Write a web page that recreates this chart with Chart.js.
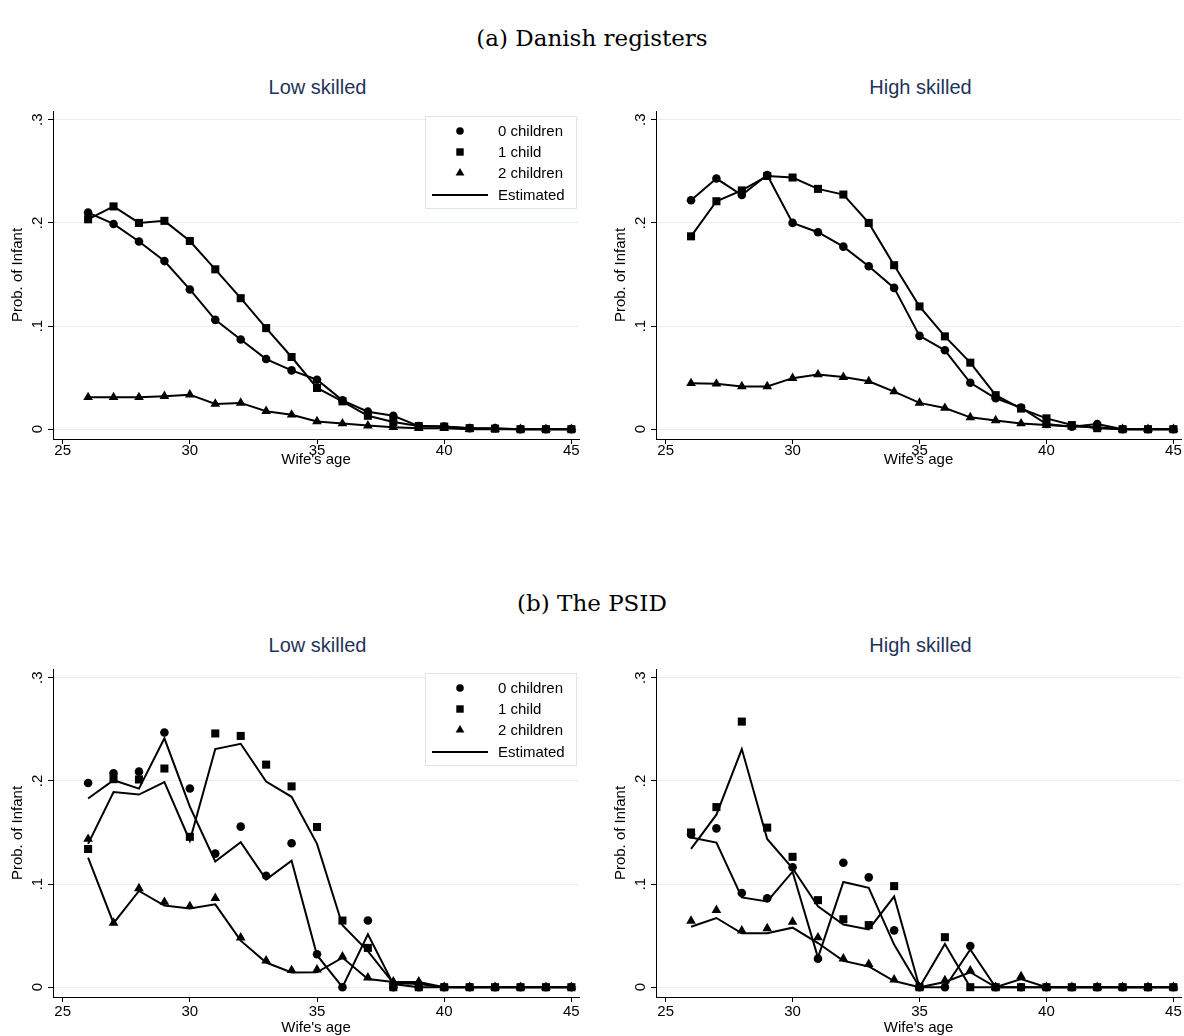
<!DOCTYPE html>
<html>
<head>
<meta charset="utf-8">
<script src="https://cdn.jsdelivr.net/npm/chart.js@4.4.1/dist/chart.umd.min.js"></script>
<style>
  body { margin: 0; background: #fff; width: 1184px; height: 1036px; position: relative; overflow: hidden; }
  .sec { position: absolute; left: 0; width: 1184px; text-align: center; font-family: "DejaVu Serif", serif; font-size: 23px; line-height: 28px; color: #000; }
  .ptitle { position: absolute; width: 525px; text-align: center; font-family: "Liberation Sans", Arial, sans-serif; font-size: 20px; line-height: 24px; color: #23325a; }
  canvas { position: absolute; }
</style>
</head>
<body>
<div class="sec" id="secA" style="top:24px"></div>
<div class="ptitle" id="t0" style="left:55px; top:75px"></div>
<div class="ptitle" id="t1" style="left:658px; top:75px"></div>
<canvas id="c0" width="585" height="371" style="left:0; top:98px"></canvas>
<canvas id="c1" width="584" height="371" style="left:603px; top:98px"></canvas>

<div class="sec" id="secB" style="top:589px"></div>
<div class="ptitle" id="t2" style="left:55px; top:633px"></div>
<div class="ptitle" id="t3" style="left:658px; top:633px"></div>
<canvas id="c2" width="585" height="381" style="left:0; top:656px"></canvas>
<canvas id="c3" width="584" height="381" style="left:603px; top:656px"></canvas>

<script>
// Labels
const sectionTitles = ["(a) Danish registers", "(b) The PSID"];
const skillTitles = ["Low skilled", "High skilled"];
const legendLabels = ["0 children", "1 child", "2 children", "Estimated"];
const xTitle = "Wife's age";
const yTitle = "Prob. of Infant";

// Axes
const ages = [26, 27, 28, 29, 30, 31, 32, 33, 34, 35, 36, 37, 38, 39, 40, 41, 42, 43, 44, 45];
const xTicks = [25, 30, 35, 40, 45];
const yTicks = [0, 0.1, 0.2, 0.3];
const yTickText = ["0", ".1", ".2", ".3"];

// (a) Danish registers, low skilled
const dkLow0 = [0.210, 0.199, 0.182, 0.163, 0.1355, 0.106, 0.087, 0.068, 0.057, 0.048, 0.028, 0.017, 0.013, 0.003, 0.0025, 0.001, 0.001, 0, 0, 0];
const dkLow1 = [0.2035, 0.216, 0.200, 0.202, 0.1825, 0.155, 0.127, 0.098, 0.070, 0.040, 0.027, 0.013, 0.007, 0.003, 0.0025, 0.001, 0.0005, 0, 0, 0];
const dkLow2 = [0.031, 0.031, 0.031, 0.032, 0.0335, 0.0245, 0.0255, 0.0175, 0.014, 0.0075, 0.0055, 0.0035, 0.002, 0.001, 0.001, 0, 0, 0, 0, 0];

// (a) Danish registers, high skilled
const dkHigh0 = [0.222, 0.243, 0.227, 0.2465, 0.200, 0.191, 0.177, 0.158, 0.137, 0.0905, 0.0765, 0.045, 0.030, 0.021, 0.005, 0.0025, 0.005, 0, 0, 0];
const dkHigh1 = [0.187, 0.221, 0.2315, 0.2455, 0.244, 0.233, 0.2275, 0.200, 0.159, 0.119, 0.090, 0.0645, 0.033, 0.020, 0.0105, 0.004, 0.001, 0, 0, 0];
const dkHigh2 = [0.0445, 0.044, 0.0415, 0.0415, 0.0495, 0.053, 0.0505, 0.0465, 0.0365, 0.0255, 0.0205, 0.0115, 0.0085, 0.0055, 0.004, 0.0025, 0.002, 0, 0, 0];

// (b) PSID, low skilled: observed and estimated
const psLowObs0 = [0.198, 0.2074, 0.209, 0.247, 0.1926, 0.1295, 0.1557, 0.108, 0.1396, 0.032, 0, 0.0646, 0, 0, 0, 0, 0, 0, 0, 0];
const psLowObs1 = [0.134, 0.2017, 0.2014, 0.212, 0.1458, 0.246, 0.2436, 0.2158, 0.1947, 0.1553, 0.0646, 0.0381, 0, 0, 0, 0, 0, 0, 0, 0];
const psLowObs2 = [0.1437, 0.0624, 0.0958, 0.0826, 0.0785, 0.0863, 0.048, 0.0258, 0.0164, 0.017, 0.0296, 0.0092, 0.0055, 0.0055, 0, 0, 0, 0, 0, 0];
const psLowEst0 = [0.183, 0.2007, 0.1925, 0.2413, 0.175, 0.1219, 0.1405, 0.1043, 0.1226, 0.031, 0, 0.0513, 0.003, 0, 0, 0, 0, 0, 0, 0];
const psLowEst1 = [0.139, 0.1893, 0.1868, 0.1988, 0.142, 0.2309, 0.236, 0.1994, 0.1846, 0.139, 0.060, 0.035, 0.004, 0.003, 0, 0, 0, 0, 0, 0];
const psLowEst2 = [0.1257, 0.0621, 0.0933, 0.0791, 0.0763, 0.0803, 0.0451, 0.0239, 0.0142, 0.0145, 0.0287, 0.008, 0.005, 0.005, 0, 0, 0, 0, 0, 0];

// (b) PSID, high skilled: observed and estimated
const psHighObs0 = [0.148, 0.154, 0.0914, 0.0863, 0.1163, 0.0277, 0.1207, 0.1065, 0.0551, 0, 0, 0.040, 0, 0, 0, 0, 0, 0, 0, 0];
const psHighObs1 = [0.150, 0.1746, 0.2575, 0.1547, 0.1264, 0.0844, 0.0659, 0.0602, 0.098, 0, 0.0485, 0, 0, 0, 0, 0, 0, 0, 0, 0];
const psHighObs2 = [0.0643, 0.0747, 0.0548, 0.057, 0.0633, 0.0482, 0.0277, 0.0224, 0.0073, 0, 0.0066, 0.016, 0, 0.0104, 0, 0, 0, 0, 0, 0];
const psHighEst0 = [0.1452, 0.1402, 0.087, 0.0832, 0.112, 0.0287, 0.102, 0.0964, 0.0413, 0, 0, 0.0365, 0, 0, 0, 0, 0, 0, 0, 0];
const psHighEst1 = [0.1342, 0.1673, 0.2309, 0.1437, 0.1153, 0.0784, 0.0608, 0.056, 0.0879, 0, 0.0419, 0, 0, 0, 0, 0, 0, 0, 0, 0];
const psHighEst2 = [0.0586, 0.0671, 0.0523, 0.0523, 0.0577, 0.0428, 0.0255, 0.0201, 0.006, 0, 0.005, 0.0145, 0, 0.008, 0, 0, 0, 0, 0, 0];

const SANS = '"Liberation Sans", Arial, sans-serif';
const shapes = ["circle", "rect", "triangle"];
const radii = { circle: 4.3, rect: 5.7, triangle: 5.6 };

document.getElementById("secA").textContent = sectionTitles[0];
document.getElementById("secB").textContent = sectionTitles[1];
["t0", "t2"].forEach(id => document.getElementById(id).textContent = skillTitles[0]);
["t1", "t3"].forEach(id => document.getElementById(id).textContent = skillTitles[1]);

function pts(vals) {
  return ages.map((a, i) => ({ x: a, y: vals[i] }));
}

// marker for the legend box
function drawMarker(ctx, shape, x, y) {
  ctx.beginPath();
  if (shape === "circle") {
    ctx.arc(x, y, 3.8, 0, Math.PI * 2);
  } else if (shape === "rect") {
    ctx.rect(x - 3.7, y - 3.7, 7.4, 7.4);
  } else {
    ctx.moveTo(x, y - 5);
    ctx.lineTo(x + 4.4, y + 2.6);
    ctx.lineTo(x - 4.4, y + 2.6);
    ctx.closePath();
  }
  ctx.fill();
}

const insideLegend = {
  id: "insideLegend",
  afterDraw(chart, args, opts) {
    if (!opts.show) return;
    const ctx = chart.ctx, a = chart.chartArea;
    const bx = Math.round(a.right - 154), by = Math.round(a.top + opts.dy);
    ctx.save();
    ctx.fillStyle = "#fff";
    ctx.fillRect(bx, by, 151, 92);
    ctx.strokeStyle = "#dde6ea";
    ctx.lineWidth = 1;
    ctx.strokeRect(bx + 0.5, by + 0.5, 151, 92);
    ctx.fillStyle = "#000";
    ctx.font = "15px " + SANS;
    ctx.textBaseline = "middle";
    const rows = [15, 36, 57, 79];
    legendLabels.forEach((lab, i) => {
      const y = by + rows[i];
      if (i < 3) {
        drawMarker(ctx, shapes[i], bx + 35, y);
      } else {
        ctx.strokeStyle = "#000";
        ctx.lineWidth = 2;
        ctx.beginPath();
        ctx.moveTo(bx + 7, y);
        ctx.lineTo(bx + 63, y);
        ctx.stroke();
      }
      ctx.fillText(lab, bx + 73, y + 1);
    });
    ctx.restore();
  }
};

function scales(xh, tickPad) {
  return {
    x: {
      type: "linear", min: 24.62, max: 45.3,
      afterBuildTicks: s => { s.ticks = xTicks.map(v => ({ value: v })); },
      afterFit: s => { s.height = xh; },
      grid: { drawOnChartArea: false, tickLength: 5, tickColor: "#000" },
      border: { color: "#000", width: 1 },
      ticks: { color: "#000", font: { family: SANS, size: 15 }, padding: tickPad, maxRotation: 0, autoSkip: false },
      title: { display: true, text: xTitle, color: "#000", font: { family: SANS, size: 15 }, padding: { top: 0, bottom: 0 } }
    },
    y: {
      type: "linear", min: -0.0095, max: 0.3085,
      afterBuildTicks: s => { s.ticks = yTicks.map(v => ({ value: v })); },
      afterFit: s => { s.width = 53; },
      grid: { color: "#e6eef0", tickLength: 5, tickColor: "#000" },
      border: { color: "#000", width: 1 },
      ticks: {
        color: "#000", font: { family: SANS, size: 15 }, padding: 4, autoSkip: false,
        minRotation: 90, maxRotation: 90, crossAlign: "center",
        callback: v => yTickText[yTicks.indexOf(v)]
      },
      title: { display: true, text: yTitle, color: "#000", font: { family: SANS, size: 15 }, padding: { top: 9, bottom: 0 } }
    }
  };
}

// Danish panels: markers joined by the estimated line
function dkSets(s0, s1, s2) {
  return [s0, s1, s2].map((v, i) => ({
    data: pts(v), showLine: true, borderColor: "#000", borderWidth: 2,
    pointStyle: shapes[i], pointRadius: radii[shapes[i]], pointBorderWidth: 0,
    pointBackgroundColor: "#000"
  }));
}

// PSID panels: observed markers plus separate estimated lines
function psSets(obs, est) {
  const o = obs.map((v, i) => ({
    data: pts(v), showLine: false,
    pointStyle: shapes[i], pointRadius: radii[shapes[i]], pointBorderWidth: 0,
    pointBackgroundColor: "#000"
  }));
  const e = est.map(v => ({
    data: pts(v), showLine: true, borderColor: "#000", borderWidth: 2, pointRadius: 0
  }));
  return o.concat(e);
}

function makePanel(id, datasets, xh, tickPad, withLegend, dy) {
  new Chart(document.getElementById(id), {
    type: "scatter",
    data: { datasets },
    options: {
      responsive: false, animation: false, devicePixelRatio: 1,
      layout: { padding: { top: 5, right: 6, bottom: 0, left: 0 } },
      scales: scales(xh, tickPad),
      plugins: {
        legend: { display: false }, tooltip: { enabled: false },
        insideLegend: { show: withLegend, dy: dy }
      }
    },
    plugins: [insideLegend]
  });
}

makePanel("c0", dkSets(dkLow0, dkLow1, dkLow2), 30, -2, true, 5);
makePanel("c1", dkSets(dkHigh0, dkHigh1, dkHigh2), 30, -2, false, 5);
makePanel("c2", psSets([psLowObs0, psLowObs1, psLowObs2], [psLowEst0, psLowEst1, psLowEst2]), 40, 1, true, 4);
makePanel("c3", psSets([psHighObs0, psHighObs1, psHighObs2], [psHighEst0, psHighEst1, psHighEst2]), 40, 1, false, 4);
</script>
</body>
</html>
